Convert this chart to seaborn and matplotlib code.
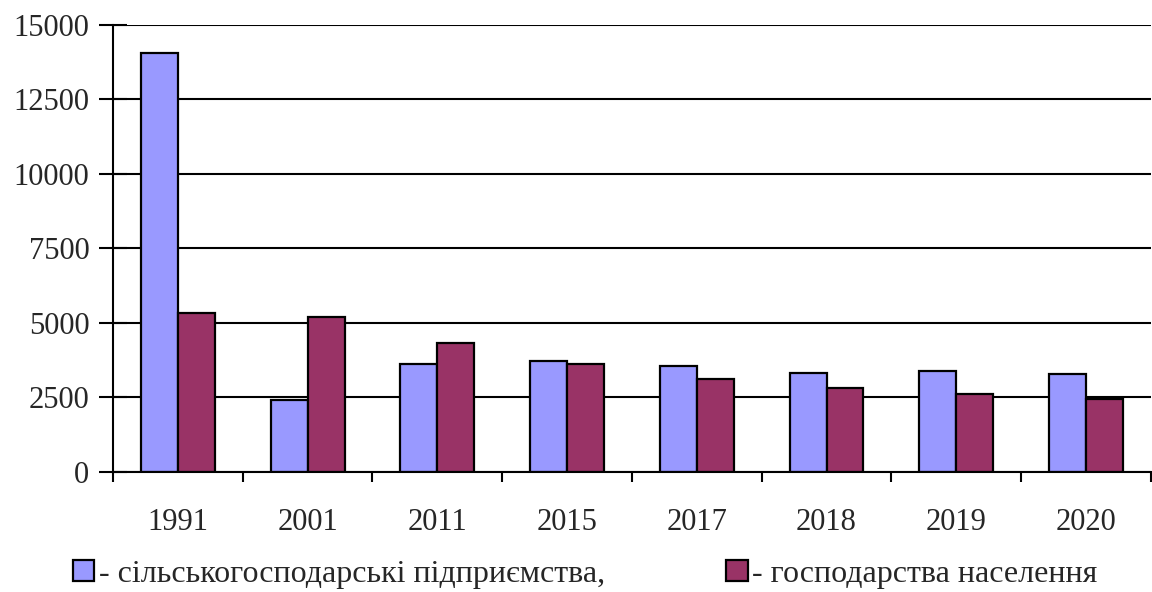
import pandas as pd
import numpy as np
import matplotlib
matplotlib.use("Agg")
import matplotlib.pyplot as plt
import seaborn as sns
from matplotlib.patches import Patch

# data
years = ['1991', '2001', '2011', '2015', '2017', '2018', '2019', '2020']
enterprises = [14060, 2420, 3620, 3720, 3560, 3310, 3400, 3300]
households = [5340, 5200, 4330, 3620, 3110, 2810, 2620, 2450]
series_names = ['- сільськогосподарські підприємства,', '- господарства населення']
colors = ['#9999FF', '#993366']

df = pd.DataFrame({
    'year': years * 2,
    'value': enterprises + households,
    'series': [series_names[0]] * len(years) + [series_names[1]] * len(years),
})

sns.set_style("white")
plt.rcParams['font.family'] = ['Liberation Serif', 'DejaVu Serif']
fs = 22
legend_fs = 23

fig = plt.figure(figsize=(11.52, 5.92), dpi=100)
ax = fig.add_axes([0.0981, 0.2027, 0.9009, 0.7551])

sns.barplot(data=df, x='year', y='value', hue='series', order=years,
            hue_order=series_names, palette=colors, width=0.57,
            edgecolor='black', linewidth=1.6, saturation=1, legend=False, ax=ax)

ax.set_xlim(-0.5, len(years) - 0.5)
ax.set_ylim(0, 15000)
ax.set_yticks(np.arange(0, 15001, 2500))
ax.set_xlabel('')
ax.set_ylabel('')

# gridlines
ax.yaxis.grid(True, color='black', linewidth=1.5)
ax.set_axisbelow(True)

for s in ['top', 'right']:
    ax.spines[s].set_visible(False)
for s in ['left', 'bottom']:
    ax.spines[s].set_color('black')
    ax.spines[s].set_linewidth(1.5)

# ticks
ax.tick_params(axis='y', left=True, direction='inout', length=20, width=1.5,
               color='black', labelsize=fs, pad=7)
ax.tick_params(axis='x', which='major', bottom=True, length=0, labelsize=fs, pad=26)
ax.set_xticks(np.arange(-0.5, len(years)), minor=True)
ax.tick_params(axis='x', which='minor', bottom=True, direction='out', length=7,
               width=1.5, color='black')

handles = [Patch(facecolor=c, edgecolor='black', linewidth=1.6) for c in colors]
fig.legend(handles, series_names, loc='center left', bbox_to_anchor=(0.0634, 0.0304),
           ncol=2, frameon=False, fontsize=legend_fs, handlelength=0.66,
           handleheight=0.63, handletextpad=0.15, columnspacing=3.8, borderaxespad=0,
           borderpad=0)

fig.savefig('out.png', dpi=100)
